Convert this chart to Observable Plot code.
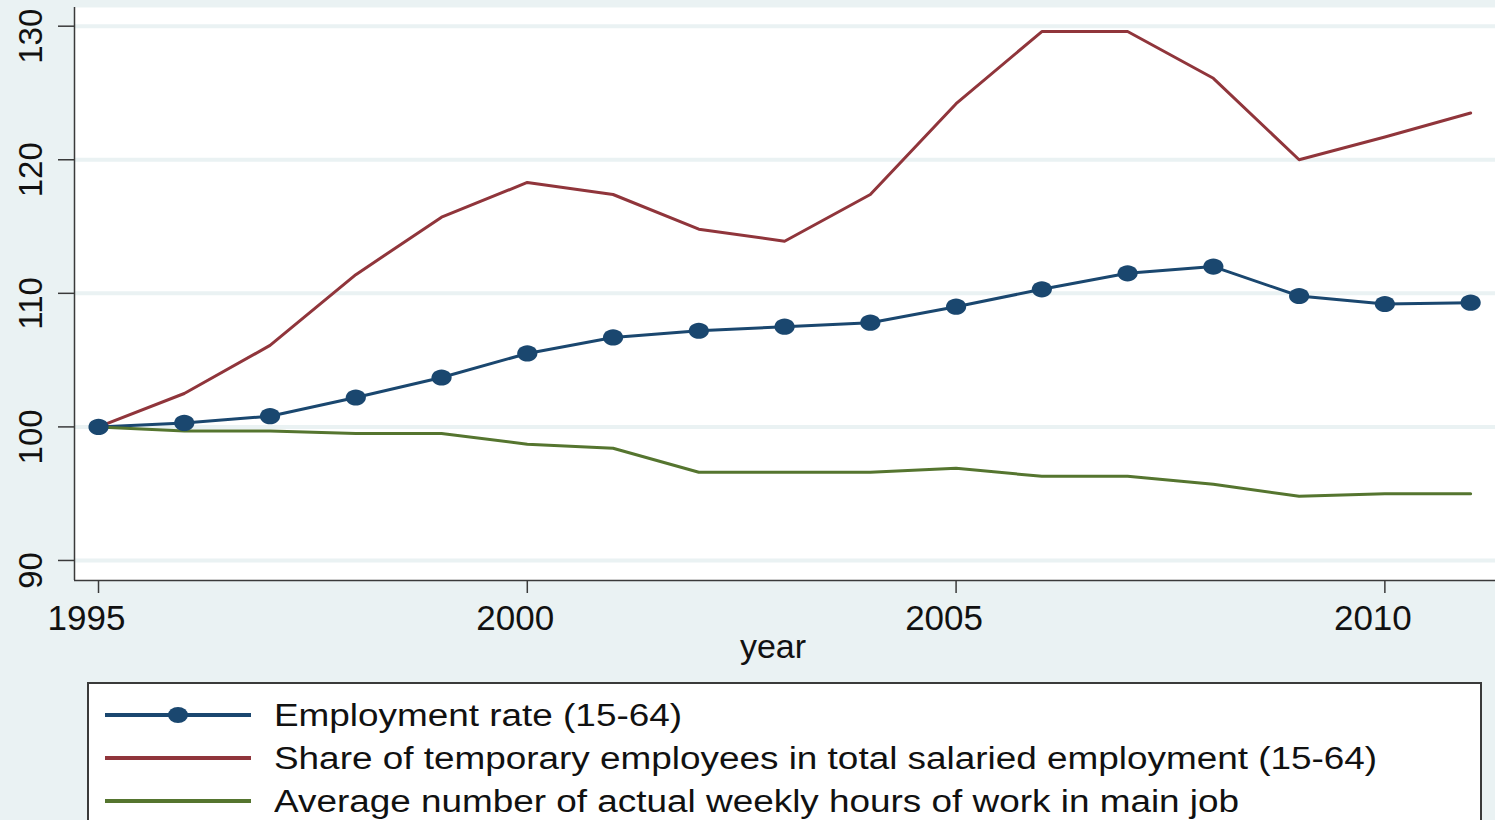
<!DOCTYPE html>
<html>
<head>
<meta charset="utf-8">
<script src="https://cdn.jsdelivr.net/npm/d3@7"></script>
<script src="https://cdn.jsdelivr.net/npm/@observablehq/plot@0.6"></script>
<style>
  html, body { margin: 0; padding: 0; background: #eaf2f3; overflow: hidden; }
  body { width: 1495px; height: 820px; position: relative; font-family: "Liberation Sans", Arial, sans-serif; }
  #chart { position: absolute; left: 0; top: 0; }
  #legend { position: absolute; left: 87px; top: 682px; width: 1395px; height: 200px; border: 2px solid #3a3a3a; background: #fff; box-sizing: border-box; }
  .row { position: absolute; left: 0; height: 40px; }
  .row svg { position: absolute; left: 15px; top: 0; }
  .row span { position: absolute; left: 185px; top: 1px; font-size: 31px; line-height: 40px; color: #111; white-space: nowrap; transform-origin: left center; transform: scaleX(1.19); }
</style>
</head>
<body>
<div id="chart"></div>
<div id="legend"></div>
<script>
const years = [1995, 1996, 1997, 1998, 1999, 2000, 2001, 2002, 2003, 2004, 2005, 2006, 2007, 2008, 2009, 2010, 2011];
const employment = [100, 100.3, 100.8, 102.2, 103.7, 105.5, 106.7, 107.2, 107.5, 107.8, 109.0, 110.3, 111.5, 112.0, 109.8, 109.2, 109.3];
const temporary = [100, 102.5, 106.1, 111.4, 115.7, 118.3, 117.4, 114.8, 113.9, 117.4, 124.2, 129.6, 129.6, 126.1, 120.0, 121.7, 123.5];
const hours = [100, 99.7, 99.7, 99.5, 99.5, 98.7, 98.4, 96.6, 96.6, 96.6, 96.9, 96.3, 96.3, 95.7, 94.8, 95.0, 95.0];
const seriesNames = [
  "Employment rate (15-64)",
  "Share of temporary employees in total salaried employment (15-64)",
  "Average number of actual weekly hours of work in main job"
];
const seriesColors = ["#1a476f", "#90353b", "#55752f"];
const xTicks = [1995, 2000, 2005, 2010];
const yTicks = [90, 100, 110, 120, 130];

const rows = [];
[employment, temporary, hours].forEach((vals, i) => {
  years.forEach((yr, j) => rows.push({ year: yr, value: vals[j], series: seriesNames[i] }));
});
const empRows = rows.filter(d => d.series === seriesNames[0]);

// ellipse marker (Stata-like, slightly wider than tall)
const ellipse = {
  draw(context, size) {
    const rx = Math.sqrt(size / Math.PI) * 1.12, ry = Math.sqrt(size / Math.PI) * 0.9;
    const k = 0.5523;
    context.moveTo(rx, 0);
    context.bezierCurveTo(rx, ry * k, rx * k, ry, 0, ry);
    context.bezierCurveTo(-rx * k, ry, -rx, ry * k, -rx, 0);
    context.bezierCurveTo(-rx, -ry * k, -rx * k, -ry, 0, -ry);
    context.bezierCurveTo(rx * k, -ry, rx, -ry * k, rx, 0);
    context.closePath();
  }
};

const xDomain = [1994.72, 2011.29];
const yDomain = [88.5, 131.4];
const axisColor = "#3a3a3a";

const chart = Plot.plot({
  width: 1495,
  height: 680,
  marginTop: 7,
  marginBottom: 100,
  marginLeft: 74,
  marginRight: 0,
  style: { background: "transparent", fontFamily: "'Liberation Sans', Arial, sans-serif", color: "#111" },
  x: { domain: xDomain },
  y: { domain: yDomain },
  color: { domain: seriesNames, range: seriesColors },
  marks: [
    Plot.frame({ fill: "white", stroke: null }),
    Plot.ruleY(yTicks, { stroke: "#eaf2f3", strokeWidth: 4 }),
    Plot.ruleX([xDomain[0]], { stroke: axisColor, strokeWidth: 1.5 }),
    Plot.ruleY([yDomain[0]], { stroke: axisColor, strokeWidth: 1.5 }),
    // tick marks
    Plot.axisX({ ticks: xTicks, tickFormat: () => "", tickSize: 13, stroke: axisColor, strokeWidth: 1.5, label: null }),
    Plot.axisY({ ticks: yTicks, tickFormat: () => "", tickSize: 16, stroke: axisColor, strokeWidth: 1.5, label: null }),
    // tick labels
    Plot.axisX({ ticks: xTicks, tickFormat: d => String(d), tickSize: 0, tickPadding: 25, dx: -12, fontSize: 35, label: null }),
    Plot.axisY({ ticks: yTicks, tickFormat: d => String(d), tickSize: 0, tickPadding: 33, tickRotate: -90, dy: 10, fontSize: 33, label: null }),
    Plot.text(["year"], { text: d => d, frameAnchor: "bottom", dy: 77, dx: -12, fontSize: 34, fill: "#111" }),
    Plot.line(rows, { x: "year", y: "value", stroke: "series", z: "series", strokeWidth: 3 }),
    Plot.dot(empRows, { x: "year", y: "value", fill: seriesColors[0], stroke: null, r: 9, symbol: ellipse })
  ]
});
document.getElementById("chart").appendChild(chart);

// legend
const legend = d3.select("#legend");
seriesNames.forEach((name, i) => {
  const row = legend.append("div").attr("class", "row").style("top", (11 + i * 43) + "px").style("width", "1380px");
  const svg = row.append("svg").attr("width", 150).attr("height", 40);
  svg.append("line").attr("x1", 1).attr("x2", 147).attr("y1", 20).attr("y2", 20)
    .attr("stroke", seriesColors[i]).attr("stroke-width", 4);
  if (i === 0) svg.append("ellipse").attr("cx", 74).attr("cy", 20).attr("rx", 10).attr("ry", 8).attr("fill", seriesColors[i]);
  row.append("span").text(name);
});
</script>
</body>
</html>
